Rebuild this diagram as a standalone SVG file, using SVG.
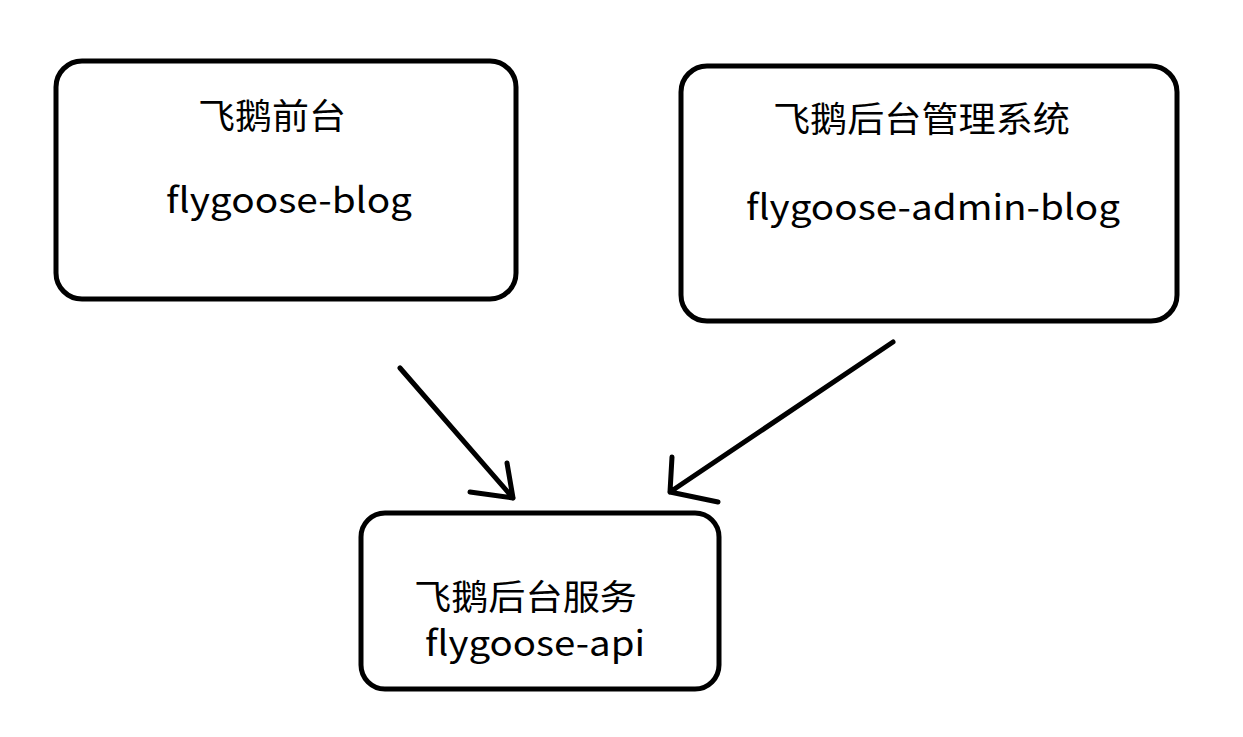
<svg xmlns="http://www.w3.org/2000/svg" width="1243" height="737" viewBox="0 0 1243 737">
<style>
.box{fill:#fff;stroke:#000;stroke-width:5}
.t{font-family:"Noto Sans CJK SC","Noto Sans",sans-serif;font-size:35px;fill:#000}
.c{fill:none;stroke:#000;stroke-width:5;stroke-linecap:round;stroke-linejoin:round}
</style>
<rect width="1243" height="737" fill="#fff"/>
<g id="node-blog">
<rect class="box" x="56" y="61" width="460" height="238" rx="26"/>
<text class="t" x="198" y="129" textLength="148" lengthAdjust="spacingAndGlyphs">飞鹅前台</text>
<text class="t" x="166" y="213" textLength="246" lengthAdjust="spacingAndGlyphs">flygoose-blog</text>
</g>
<g id="node-admin">
<rect class="box" x="681" y="66" width="496" height="255" rx="26"/>
<text class="t" x="773" y="132" textLength="297" lengthAdjust="spacingAndGlyphs">飞鹅后台管理系统</text>
<text class="t" x="746" y="220" textLength="374" lengthAdjust="spacingAndGlyphs">flygoose-admin-blog</text>
</g>
<g id="node-api">
<rect class="box" x="361" y="513" width="358" height="176" rx="24"/>
<text class="t" x="414" y="610" textLength="223" lengthAdjust="spacingAndGlyphs">飞鹅后台服务</text>
<text class="t" x="425" y="656" textLength="220" lengthAdjust="spacingAndGlyphs">flygoose-api</text>
</g>
<g id="connectors">
<path class="c" d="M400,368 L513,498 M470,492 L513,498 L507,463"/>
<path class="c" d="M893,342 L670,492 M672,457 L670,492 L718,502"/>
</g>
</svg>
